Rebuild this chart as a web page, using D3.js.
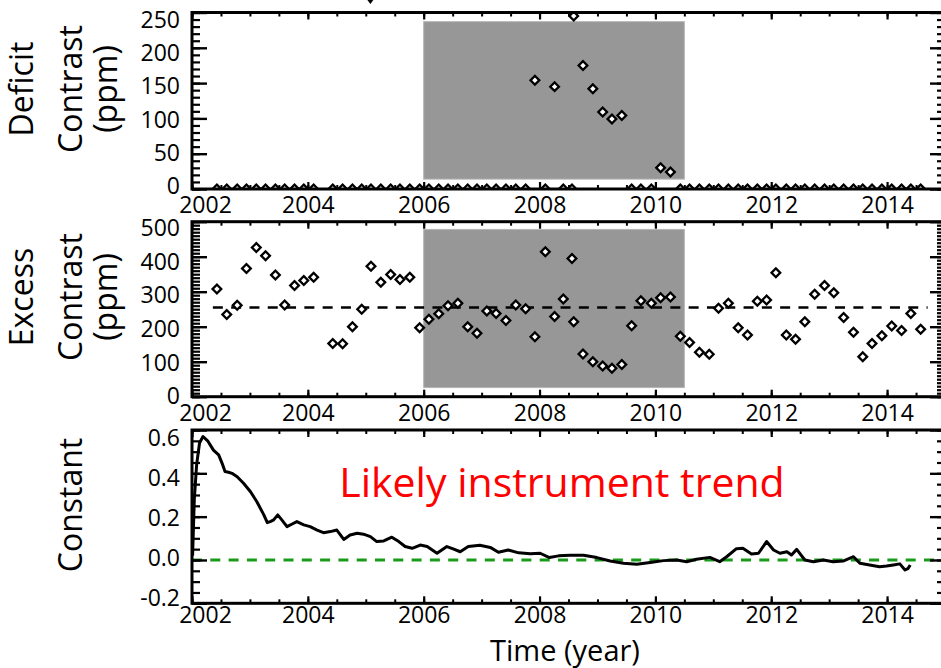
<!DOCTYPE html>
<html><head><meta charset="utf-8">
<script src="https://cdn.jsdelivr.net/npm/d3@7"></script>
<style>
body{margin:0;background:#fff}
svg{display:block}
text{font-family:"Open Sans",sans-serif;fill:#000}
</style>
</head><body>
<svg id="chart" width="941" height="668"></svg>
<script>
// ---------------- DATA ----------------
const years = [2002.43,2002.60,2002.78,2002.94,2003.11,2003.27,2003.44,2003.60,2003.77,2003.93,2004.10,
  2004.43,2004.60,2004.77,2004.93,2005.09,2005.26,2005.43,2005.59,2005.76,2005.93,2006.09,2006.26,2006.42,
  2006.59,2006.76,2006.92,2007.09,2007.25,2007.42,2007.59,2007.76,2007.92,2008.10,2008.26,2008.41,2008.56,
  2008.59,2008.75,2008.92,2009.09,2009.25,2009.42,2009.59,2009.75,2009.93,2010.09,2010.26,2010.43,2010.59,
  2010.76,2010.93,2011.09,2011.26,2011.43,2011.59,2011.76,2011.92,2012.08,2012.26,2012.42,2012.58,2012.75,
  2012.92,2013.08,2013.25,2013.42,2013.58,2013.74,2013.91,2014.08,2014.25,2014.41,2014.58];
const excess = [308,235,261,366,426,403,348,262,318,332,341,
  152,151,200,250,373,327,349,335,341,197,221,237,260,
  267,200,181,245,238,218,262,251,171,414,229,279,395,
  214,122,100,88,81,92,203,274,267,283,285,173,155,
  127,121,253,267,197,176,273,276,354,176,164,214,293,
  318,297,226,184,114,152,174,202,189,238,193];
const deficit = [0,0,0,0,0,0,0,0,0,0,0,
  0,0,0,0,0,0,0,0,0,0,0,0,0,
  0,0,0,0,0,0,0,0,154,0,145,0,0,
  245,175,142,109,99,104,0,0,0,30,24,0,0,
  0,0,0,0,0,0,0,0,0,0,0,0,0,
  0,0,0,0,0,0,0,0,0,0,0];
const excessMean = 255;
const excessMeanSpan = [2002.36, 2014.70];
const shadeYears = [2006.0, 2010.5];
const shadeDeficit = [14, 237];
const shadeExcess = [26, 478];

const trendYears = [2002.01,2002.04,2002.08,2002.13,2002.19,2002.27,2002.37,2002.46,2002.52,2002.57,2002.63,2002.69,
  2002.78,2002.89,2003.01,2003.12,2003.24,2003.30,2003.36,2003.41,2003.48,2003.55,2003.64,2003.73,2003.81,2003.93,
  2004.04,2004.16,2004.27,2004.39,2004.50,2004.62,2004.73,2004.85,2004.96,2005.08,2005.19,2005.31,2005.45,2005.57,
  2005.68,2005.80,2005.94,2006.06,2006.23,2006.40,2006.52,2006.63,2006.77,2006.97,2007.15,2007.29,2007.46,2007.64,
  2007.84,2008.01,2008.17,2008.33,2008.53,2008.76,2008.99,2009.22,2009.45,2009.68,2009.91,2010.14,2010.37,2010.54,
  2010.71,2010.94,2011.11,2011.23,2011.40,2011.51,2011.66,2011.78,2011.92,2012.04,2012.15,2012.27,2012.35,2012.44,
  2012.58,2012.73,2012.90,2013.07,2013.24,2013.42,2013.53,2013.70,2013.87,2013.99,2014.11,2014.22,2014.31,2014.36,2014.40];
const trendValues = [0.02,0.28,0.44,0.54,0.57,0.55,0.507,0.485,0.446,0.408,0.405,0.40,
  0.384,0.354,0.315,0.269,0.208,0.172,0.178,0.185,0.208,0.185,0.154,0.166,0.177,0.162,
  0.154,0.138,0.126,0.131,0.138,0.095,0.115,0.123,0.119,0.108,0.085,0.088,0.105,0.085,
  0.062,0.054,0.069,0.062,0.031,0.062,0.050,0.038,0.062,0.068,0.058,0.036,0.046,0.033,
  0.029,0.031,0.011,0.019,0.022,0.022,0.011,-0.005,-0.015,-0.020,-0.012,-0.003,0.000,-0.008,
  0.003,0.012,-0.008,0.015,0.052,0.054,0.028,0.031,0.085,0.046,0.031,0.038,0.023,0.049,
  0.000,-0.008,0.000,-0.008,-0.005,0.015,-0.015,-0.023,-0.031,-0.028,-0.023,-0.018,-0.046,-0.040,-0.023];
const trendRef = 0.0;

const xDomain = [2002, 2015];
const xTickYears = [2002,2004,2006,2008,2010,2012,2014];
const deficitDomain = [0, 250];
const deficitTicks = [0,50,100,150,200,250];
const excessDomain = [0, 500];
const excessTicks = [0,100,200,300,400,500];
const constDomain = [-0.2, 0.6];
const constTicks = [-0.2,0.0,0.2,0.4,0.6];
const annotation = "Likely instrument trend";
const xTitle = "Time (year)";

// ---------------- LAYOUT ----------------
const svg = d3.select("#chart");
const L = 192, R = 945;
const x = d3.scaleLinear().domain(xDomain).range([L, R]);

const panels = [
  {top:12.5, bottom:189, domain:deficitDomain, ticks:deficitTicks, minorStep:10, labelTop:19, labelBottom:185.5,
   fmt:d=>String(d), title:["Deficit","Contrast","(ppm)"], titleCy:89, xLabelBase:213},
  {top:221.7, bottom:396.7, domain:excessDomain, ticks:excessTicks, minorStep:10, labelTop:227.5, labelBottom:395.5,
   fmt:d=>String(d), title:["Excess","Contrast","(ppm)"], titleCy:297, xLabelBase:421},
  {top:430, bottom:603.3, domain:constDomain, ticks:constTicks, minorStep:0.05, labelTop:437.4, labelBottom:597.4,
   fmt:d=>d.toFixed(1), title:["Constant"], titleCy:505, xLabelBase:622.5}
];
const titleBaselines3 = [33, 82, 117];

panels.forEach((p,i)=>{
  p.y = d3.scaleLinear().domain(p.domain).range([p.bottom, p.top]);
  p.yLab = d3.scaleLinear().domain(p.domain).range([p.labelBottom, p.labelTop]);
  const n = Math.round((p.domain[1]-p.domain[0])/p.minorStep);
  p.minor = d3.range(n+1).map(k=>+(p.domain[0]+k*p.minorStep).toFixed(4));
});

const minorX = d3.range(0, 26+1).map(k=>xDomain[0]+k*0.5);

function styleAxis(g, w){
  g.select(".domain").remove();
  g.selectAll(".tick line").attr("stroke","#000").attr("stroke-width", w);
  g.selectAll(".tick text").remove();
}

panels.forEach((p,i)=>{
  svg.append("clipPath").attr("id","clip"+i).append("rect")
    .attr("x",L).attr("y",p.top).attr("width",R-L).attr("height",p.bottom-p.top);
});

// shaded boxes
[[0,shadeDeficit],[1,shadeExcess]].forEach(([i,s])=>{
  const p = panels[i];
  svg.append("rect")
    .attr("x", x(shadeYears[0])).attr("width", x(shadeYears[1])-x(shadeYears[0]))
    .attr("y", p.y(s[1])).attr("height", p.y(s[0])-p.y(s[1]))
    .attr("fill","#979797").attr("stroke","#b5b5b5").attr("stroke-width",1);
});

// reference lines
svg.append("line")
  .attr("x1", x(excessMeanSpan[0])).attr("x2", x(excessMeanSpan[1]))
  .attr("y1", panels[1].y(excessMean)).attr("y2", panels[1].y(excessMean))
  .attr("stroke","#000").attr("stroke-width",2.6).attr("stroke-dasharray","10,8.3");
svg.append("line")
  .attr("x1", x(xDomain[0])).attr("x2", x(xDomain[1]))
  .attr("y1", panels[2].y(trendRef)).attr("y2", panels[2].y(trendRef))
  .attr("stroke","#1a9a1a").attr("stroke-width",3).attr("stroke-dasharray","10,8.3");

// diamonds
const diamond = d3.symbol().type(d3.symbolSquare).size(38);
function drawDiamonds(p, idx, vals){
  svg.append("g").attr("clip-path", idx===0 ? "url(#clip0)" : null)
    .selectAll("path").data(years.map((yr,k)=>[yr, vals[k]])).join("path")
    .attr("d", diamond)
    .attr("transform", d=>`translate(${x(d[0])},${p.y(d[1])}) rotate(45)`)
    .attr("fill","#fff").attr("stroke","#000").attr("stroke-width",2.3);
}
drawDiamonds(panels[0], 0, deficit);
drawDiamonds(panels[1], 1, excess);

// trend line
const line = d3.line().x((d,k)=>x(trendYears[k])).y(d=>panels[2].y(d));
svg.append("path").datum(trendValues).attr("d", line)
  .attr("fill","none").attr("stroke","#000").attr("stroke-width",3).attr("stroke-linejoin","round");

// axes, frames, labels
panels.forEach((p,i)=>{
  svg.append("g").attr("transform",`translate(${L},0)`)
    .call(d3.axisLeft(p.y).tickValues(p.minor).tickSize(-8)).call(styleAxis, 2.2);
  svg.append("g").attr("transform",`translate(${L},0)`)
    .call(d3.axisLeft(p.y).tickValues(p.ticks).tickSize(-15)).call(styleAxis, 2.4);
  svg.append("g").attr("transform",`translate(${R},0)`)
    .call(d3.axisRight(p.y).tickValues(p.minor).tickSize(-8)).call(styleAxis, 2.2);
  svg.append("g").attr("transform",`translate(${R},0)`)
    .call(d3.axisRight(p.y).tickValues(p.ticks).tickSize(-15)).call(styleAxis, 2.4);
  svg.append("g").attr("transform",`translate(0,${p.bottom})`)
    .call(d3.axisBottom(x).tickValues(minorX).tickSize(-4)).call(styleAxis, 2);
  svg.append("g").attr("transform",`translate(0,${p.bottom})`)
    .call(d3.axisBottom(x).tickValues(xTickYears).tickSize(-7)).call(styleAxis, 2.2);
  svg.append("g").attr("transform",`translate(0,${p.top})`)
    .call(d3.axisTop(x).tickValues(minorX).tickSize(-4)).call(styleAxis, 2);
  svg.append("g").attr("transform",`translate(0,${p.top})`)
    .call(d3.axisTop(x).tickValues(xTickYears).tickSize(-7)).call(styleAxis, 2.2);
  svg.append("rect").attr("x",L).attr("y",p.top).attr("width",R-L).attr("height",p.bottom-p.top)
    .attr("fill","none").attr("stroke","#000").attr("stroke-width",3);

  const gl = svg.append("g").attr("transform",`translate(180,0)`)
    .call(d3.axisLeft(p.yLab).tickValues(p.ticks).tickSize(0).tickPadding(0).tickFormat(p.fmt));
  gl.select(".domain").remove();
  gl.selectAll("text").attr("font-size",23).attr("font-family",'"Open Sans",sans-serif')
    .attr("dy","0.36em").attr("fill","#000");

  const gx = svg.append("g").attr("transform",`translate(0,${p.xLabelBase})`)
    .call(d3.axisBottom(x).tickValues(xTickYears).tickSize(0).tickPadding(0).tickFormat(d3.format("d")));
  gx.select(".domain").remove();
  gx.selectAll("text").attr("font-size",23).attr("font-family",'"Open Sans",sans-serif')
    .attr("y",0).attr("dy","0").attr("fill","#000")
    .attr("dx",(d,k)=>k===0?13:0);

  const baselines = p.title.length===3 ? titleBaselines3 : [82];
  p.title.forEach((t,k)=>{
    svg.append("text").attr("transform",`translate(${baselines[k]},${p.titleCy}) rotate(-90)`)
      .attr("text-anchor","middle").attr("font-size",32).text(t);
  });
});

// small mark above top frame
svg.append("path").attr("d", d3.line()([[x(2005.08)-3,0],[x(2005.08)+3,0],[x(2005.08),4]]))
  .attr("fill","#000");

svg.append("text").attr("x",562).attr("y",497).attr("text-anchor","middle")
  .attr("font-size",41).style("fill","#ff0000").text(annotation);
svg.append("text").attr("x",565).attr("y",660.5).attr("text-anchor","middle")
  .attr("font-size",29).text(xTitle);
</script>
</body></html>
